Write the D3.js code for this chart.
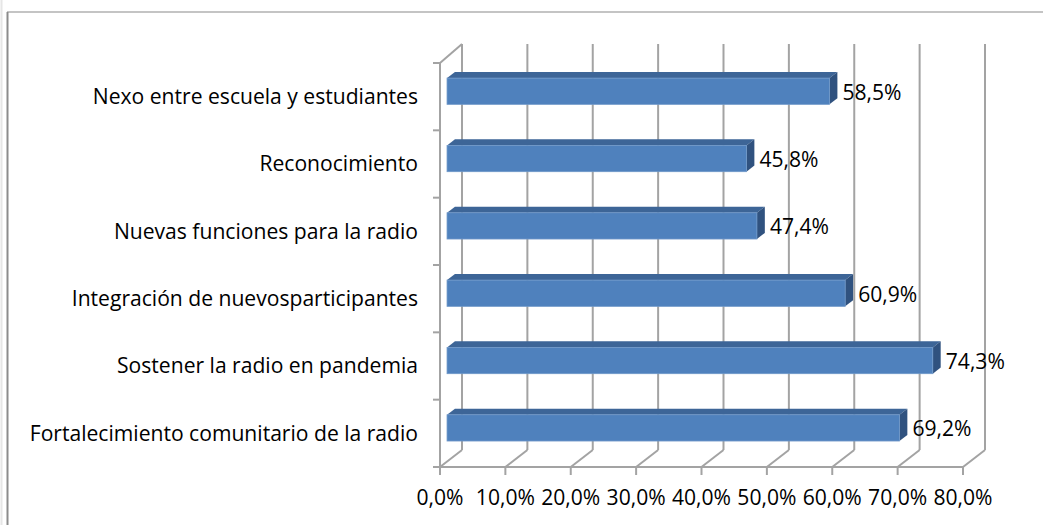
<!DOCTYPE html>
<html>
<head>
<meta charset="utf-8">
<script src="https://cdn.jsdelivr.net/npm/d3@7"></script>
<style>
  body { margin: 0; background: #fff; }
  text { font-family: "Open Sans", sans-serif; font-size: 21.1px; fill: #000; }
</style>
</head>
<body>
<div id="chart"></div>
<script>
const categories = [
    "Nexo entre escuela y estudiantes",
    "Reconocimiento",
    "Nuevas funciones para la radio",
    "Integración de nuevosparticipantes",
    "Sostener la radio en pandemia",
    "Fortalecimiento comunitario de la radio"
]
const values = [58.5, 45.8, 47.4, 60.9, 74.3, 69.2]
const tickValues = [0, 10, 20, 30, 40, 50, 60, 70, 80]

const width = 1043
const height = 525

// depth of the 3d box (oblique)
const depth = {dx: 22, dy: -17}
const barFront = 0.32
const barBack = 0.68

const svg = d3.select("#chart").append("svg")
    .attr("width", width)
    .attr("height", height)

// outer frame
svg.append("line").attr("x1", 7).attr("x2", width).attr("y1", 12).attr("y2", 12)
    .attr("stroke", "#c4c4c4").attr("stroke-width", 2)
svg.append("line").attr("x1", 7.5).attr("x2", 7.5).attr("y1", 12).attr("y2", height)
    .attr("stroke", "#8c8c8c").attr("stroke-width", 2)
svg.append("line").attr("x1", 1.5).attr("x2", 1.5).attr("y1", 0).attr("y2", height)
    .attr("stroke", "#e6e6e6").attr("stroke-width", 2)

const x = d3.scaleLinear().domain([0, 80]).range([440, 963])
const y = d3.scaleBand().domain(categories).range([63, 467]).padding(0)

const gridColor = "#a3a3a3"
const grid = svg.append("g").attr("stroke", gridColor).attr("stroke-width", 2).attr("fill", "none")

// back wall gridlines
grid.selectAll(".back").data(tickValues).enter().append("line")
    .attr("x1", d => x(d) + depth.dx).attr("x2", d => x(d) + depth.dx)
    .attr("y1", 44).attr("y2", 467 + depth.dy)

// floor diagonals
grid.selectAll(".floor").data(tickValues).enter().append("line")
    .attr("x1", d => x(d)).attr("y1", 467)
    .attr("x2", d => x(d) + depth.dx).attr("y2", 467 + depth.dy)

// front floor axis + ticks
grid.append("line").attr("x1", x(0)).attr("x2", x(80)).attr("y1", 467).attr("y2", 467)
grid.selectAll(".xtick").data(tickValues).enter().append("line")
    .attr("x1", d => x(d)).attr("x2", d => x(d))
    .attr("y1", 467).attr("y2", 475)

// left wall
grid.append("line").attr("x1", x(0)).attr("x2", x(0)).attr("y1", 63).attr("y2", 467)
grid.append("line").attr("x1", x(0)).attr("y1", 63)
    .attr("x2", x(0) + depth.dx).attr("y2", 63 + depth.dy - 2)
const bounds = categories.map(c => y(c)).concat([467])
grid.selectAll(".ytick").data(bounds).enter().append("line")
    .attr("x1", x(0) - 7).attr("x2", x(0))
    .attr("y1", d => d).attr("y2", d => d)

// x tick labels
svg.selectAll(".xlabel").data(tickValues).enter().append("text")
    .attr("x", d => x(d))
    .attr("y", 505)
    .attr("text-anchor", "middle")
    .text(d => d.toFixed(1).replace(".", ",") + "%")

// category labels
svg.selectAll(".ylabel").data(categories).enter().append("text")
    .attr("x", 418)
    .attr("y", d => y(d) + y.bandwidth() / 2)
    .attr("dy", "0.35em")
    .attr("text-anchor", "end")
    .text(d => d)

// bars
const barH = y.bandwidth() * 0.39
const f0 = {dx: depth.dx * barFront, dy: depth.dy * barFront}
const bd = {dx: depth.dx * (barBack - barFront), dy: depth.dy * (barBack - barFront)}

const bars = svg.selectAll(".bar").data(categories).enter().append("g")
    .attr("transform", (d, i) => {
        let top = y(d) + (y.bandwidth() - barH) / 2
        return `translate(${f0.dx},${top + f0.dy})`
    })

bars.append("path")
    .attr("fill", "#3d6597")
    .attr("d", (d, i) => {
        let x0 = x(0), x1 = x(values[i])
        return `M${x0},0 L${x0 + bd.dx},${bd.dy} L${x1 + bd.dx},${bd.dy} L${x1},0 Z`
    })
bars.append("path")
    .attr("fill", "#30527f")
    .attr("d", (d, i) => {
        let x1 = x(values[i])
        return `M${x1},0 L${x1 + bd.dx},${bd.dy} L${x1 + bd.dx},${barH + bd.dy} L${x1},${barH} Z`
    })
bars.append("rect")
    .attr("x", x(0))
    .attr("y", 0)
    .attr("width", (d, i) => x(values[i]) - x(0))
    .attr("height", barH)
    .attr("fill", "#4f81bd")
    .attr("stroke", "#6f98c9")
    .attr("stroke-width", 0.8)

// value labels
bars.append("text")
    .attr("x", (d, i) => x(values[i]) + 13)
    .attr("y", barH / 2 + 1)
    .attr("dy", "0.35em")
    .text((d, i) => values[i].toFixed(1).replace(".", ",") + "%")
</script>
</body>
</html>
